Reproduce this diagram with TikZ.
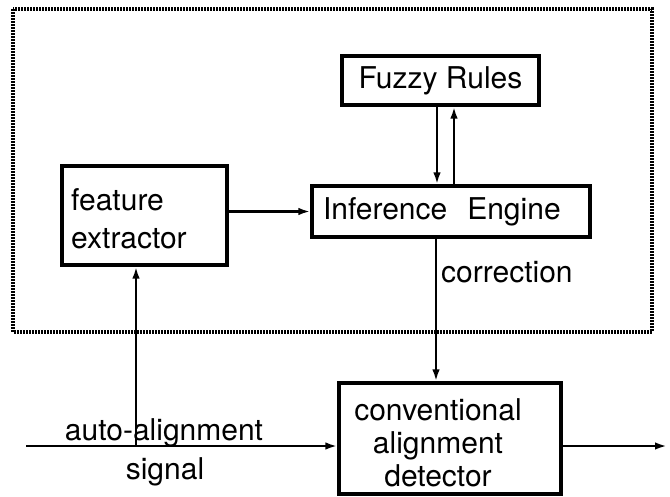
\documentclass[tikz,border=0pt]{standalone}
\usepackage{fontspec}
\setmainfont{TeX Gyre Heros}
\usetikzlibrary{arrows.meta}
\begin{document}
\begin{tikzpicture}[x=1pt,y=-1pt,
  box/.style={draw,line width=3.2pt,inner sep=0pt},
  conn/.style={line width=2.6pt,-{Latex[length=12pt,width=7.5pt]}},
  lbl/.style={inner sep=0pt,font=\fontsize{30}{34}\selectfont},
  every node/.style={font=\fontsize{30}{34}\selectfont}]
\useasboundingbox (0,0) rectangle (670,496);
\fill[white] (0,0) rectangle (670,496);
% dotted frame
\draw[line width=3.2pt,dash pattern=on 1.8pt off 1.2pt] (13,9) rectangle (652,332);
% boxes
\node[box,minimum width=197pt,minimum height=49pt] (fr) at (440.5,80.5) {Fuzzy Rules};
\node[box,minimum width=278pt,minimum height=51pt,text width=256pt,inner xsep=11pt,align=left] (ie) at (451,211.5) {Inference\ \ Engine};
\node[box,minimum width=165pt,minimum height=99pt] (fe) at (144.5,215.5) {};
\node[lbl,anchor=north west,align=left,font=\fontsize{30}{38}\selectfont] (fetext) at (71,188) {feature\\extractor};
\node[box,minimum width=222pt,minimum height=111pt] (cad) at (450,438.5) {};
\node[lbl,align=center,font=\fontsize{30}{33}\selectfont] (cadtext) at (438,443) {conventional\\alignment\\detector};
% coordinates
\coordinate (in) at (26,446);
\coordinate (br) at (136,446);
\coordinate (out) at (667,446);
% connectors
\draw[conn] (fe.east |- ie.west) -- (ie.west);
\draw[conn] (fr.south -| 437,0) -- (ie.north -| 437,0);
\draw[conn] (ie.north -| 454,0) -- (fr.south -| 454,0);
\draw[conn] (ie.south -| 436,0) -- (cad.north -| 436,0);
\draw[conn] (in) -- (in -| cad.west);
\draw[conn] (br) -- (br |- fe.south);
\draw[conn] (in -| cad.east) -- (out);
% labels
\node[lbl,anchor=base] (auto) at (164,440) {auto-alignment};
\node[lbl] (signal) at (165,472) {signal};
\node[lbl,anchor=west] (corr) at (441,272) {correction};
\end{tikzpicture}
\end{document}
